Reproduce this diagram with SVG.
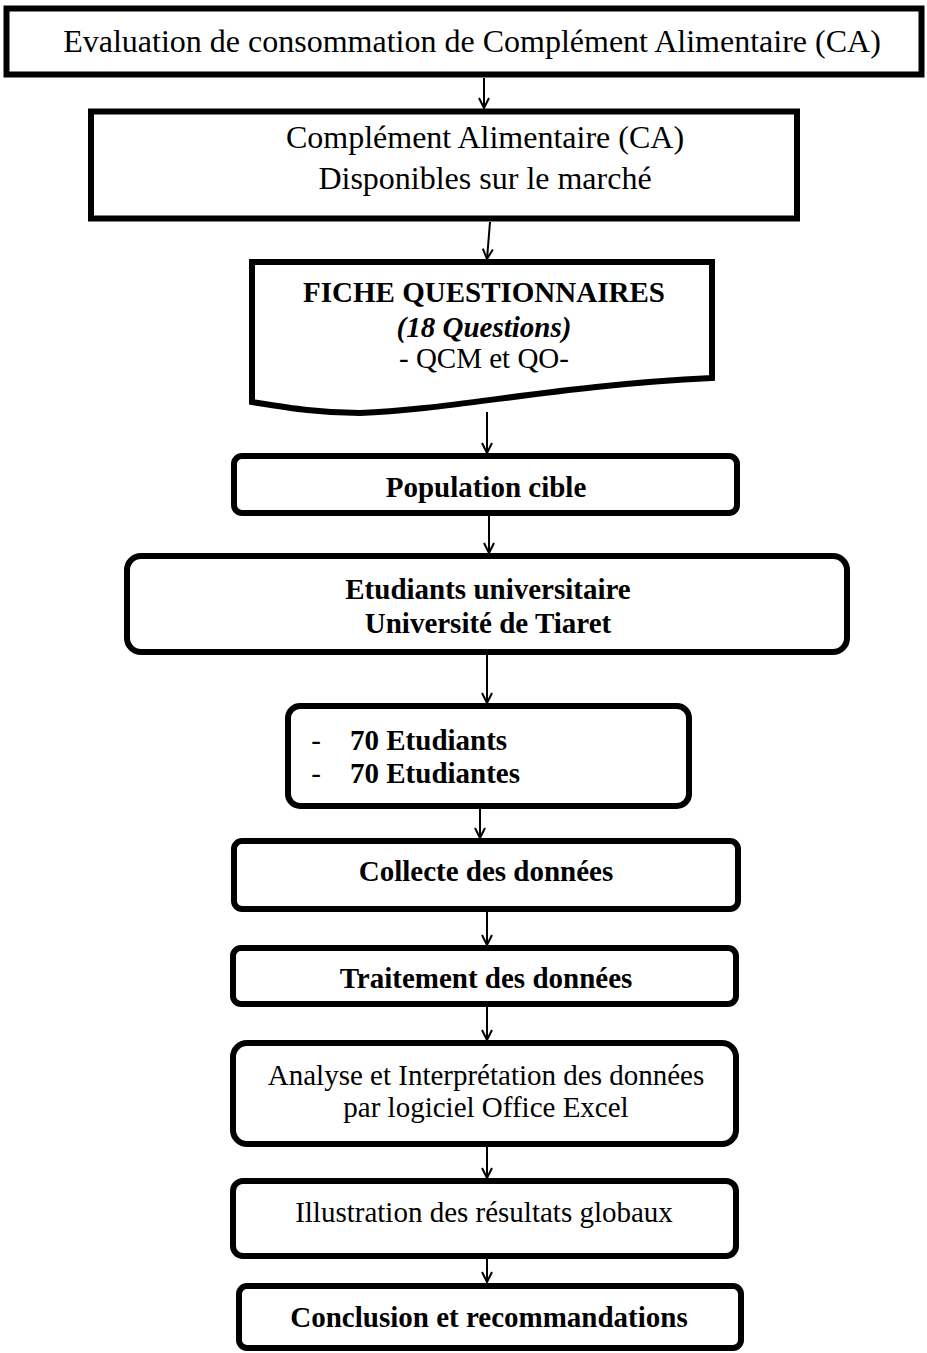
<svg xmlns="http://www.w3.org/2000/svg" width="927" height="1353" viewBox="0 0 927 1353">
<defs>
<style>
.box{fill:#fff;stroke:#000;stroke-width:6}
.t{font-family:"Liberation Serif","Times New Roman",serif;fill:#000;text-anchor:middle}
.l{font-size:32px}
.m{font-size:29px}
.b{font-weight:bold}
.conn line{stroke:#000;stroke-width:2}
</style>
<marker id="ah" viewBox="0 0 12 12" refX="11" refY="6" markerWidth="12" markerHeight="12" markerUnits="userSpaceOnUse" orient="auto">
<path d="M1,1 L11,6 L1,11" fill="none" stroke="#000" stroke-width="2"/>
</marker>
</defs>
<rect width="927" height="1353" fill="#fff"/>
<g class="conn">
<line x1="484" y1="78" x2="484" y2="108" marker-end="url(#ah)"/>
<line x1="490" y1="222" x2="487" y2="259" marker-end="url(#ah)"/>
<line x1="487" y1="412" x2="487" y2="453" marker-end="url(#ah)"/>
<line x1="489" y1="516" x2="489" y2="553" marker-end="url(#ah)"/>
<line x1="487" y1="655" x2="487" y2="703" marker-end="url(#ah)"/>
<line x1="480" y1="809" x2="480" y2="838" marker-end="url(#ah)"/>
<line x1="487" y1="912" x2="487" y2="945" marker-end="url(#ah)"/>
<line x1="487" y1="1007" x2="487" y2="1040" marker-end="url(#ah)"/>
<line x1="487" y1="1147" x2="487" y2="1178" marker-end="url(#ah)"/>
<line x1="487" y1="1259" x2="487" y2="1282" marker-end="url(#ah)"/>
</g>
<g id="n1">
<rect class="box" x="6.5" y="8.5" width="915" height="66"/>
<text class="t l" x="472" y="52">Evaluation de consommation de Complément Alimentaire (CA)</text>
</g>
<g id="n2">
<rect class="box" x="91" y="111.5" width="706" height="107"/>
<text class="t l" x="485" y="148">Complément Alimentaire (CA)</text>
<text class="t l" x="485" y="189">Disponibles sur le marché</text>
</g>
<g id="n3">
<path class="box" d="M252,262 H712 V378 C560,385 450,410 360,413 C320,413 290,408 252,402 Z"/>
<text class="t m b" x="484" y="302">FICHE QUESTIONNAIRES</text>
<text class="t m b" x="484" y="337" font-style="italic">(18 Questions)</text>
<text class="t m" x="484" y="368">- QCM et QO-</text>
</g>
<g id="n4">
<rect class="box" x="234" y="456" width="503" height="57" rx="8"/>
<text class="t m b" x="486" y="497">Population cible</text>
</g>
<g id="n5">
<rect class="box" x="127" y="556" width="720" height="96" rx="14"/>
<text class="t m b" x="488" y="599">Etudiants universitaire</text>
<text class="t m b" x="488" y="633">Université de Tiaret</text>
</g>
<g id="n6">
<rect class="box" x="288" y="706" width="401" height="100" rx="12"/>
<text class="t m" x="316" y="750">-</text>
<text class="t m b" x="350" y="750" style="text-anchor:start">70 Etudiants</text>
<text class="t m" x="316" y="783">-</text>
<text class="t m b" x="350" y="783" style="text-anchor:start">70 Etudiantes</text>
</g>
<g id="n7">
<rect class="box" x="234" y="841" width="504" height="68" rx="8"/>
<text class="t m b" x="486" y="881">Collecte des données</text>
</g>
<g id="n8">
<rect class="box" x="233" y="948" width="503" height="56" rx="8"/>
<text class="t m b" x="486" y="988">Traitement des données</text>
</g>
<g id="n9">
<rect class="box" x="233" y="1043" width="503" height="101" rx="14"/>
<text class="t m" x="486" y="1085">Analyse et Interprétation des données</text>
<text class="t m" x="486" y="1117">par logiciel Office Excel</text>
</g>
<g id="n10">
<rect class="box" x="233" y="1181" width="503" height="75" rx="10"/>
<text class="t m" x="484" y="1222">Illustration des résultats globaux</text>
</g>
<g id="n11">
<rect class="box" x="239" y="1286" width="502" height="62" rx="8"/>
<text class="t m b" x="489" y="1327">Conclusion et recommandations</text>
</g>
</svg>
